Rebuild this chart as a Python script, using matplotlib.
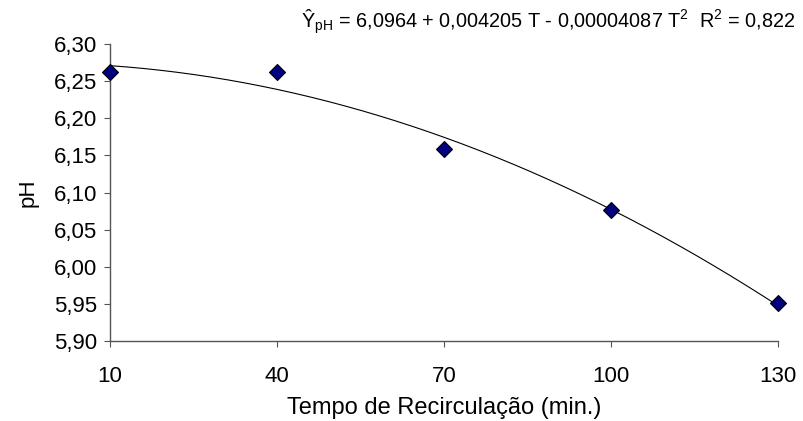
import numpy as np
import matplotlib
matplotlib.use("Agg")
import matplotlib.pyplot as plt
from matplotlib.ticker import FuncFormatter

plt.rcParams['font.family'] = ['Liberation Sans', 'DejaVu Sans']
plt.rcParams['mathtext.fontset'] = 'custom'
plt.rcParams['mathtext.rm'] = 'Liberation Sans'
plt.rcParams['mathtext.it'] = 'Liberation Sans'

tempo = [10, 40, 70, 100, 130]
ph = [6.262, 6.262, 6.158, 6.076, 5.951]
x_ticks = [10, 40, 70, 100, 130]
y_ticks = [5.90, 5.95, 6.00, 6.05, 6.10, 6.15, 6.20, 6.25, 6.30]
equation = ("Ŷ$_{\\mathregular{pH}}$ = 6,0964 + 0,004205 T - 0,00004087 T$^{\\mathregular{2}}$"
            "  R$^{\\mathregular{2}}$ = 0,822")

fig = plt.figure(figsize=(8.04, 4.21), dpi=100)
ax = fig.add_axes([110/804, 1 - 341/421, (778-110)/804, (341-44)/421])

coef = np.polyfit(tempo, ph, 2)
tt = np.linspace(10, 130, 200)
ax.plot(tt, np.polyval(coef, tt), color='black', lw=0.8, clip_on=False)
ax.plot(tempo, ph, linestyle='none', marker='D', markersize=8, clip_on=False, zorder=5,
        markerfacecolor='#000080', markeredgecolor='black', markeredgewidth=0.8)

ax.set_xlim(10, 130)
ax.set_ylim(5.90, 6.30)
ax.set_xticks(x_ticks)
ax.set_yticks(y_ticks)
ax.yaxis.set_major_formatter(FuncFormatter(lambda v, p: f"{v:.2f}".replace('.', ',')))
for s in ['top', 'right']:
    ax.spines[s].set_visible(False)
for s in ['left', 'bottom']:
    ax.spines[s].set_color('#555555')
    ax.spines[s].set_linewidth(1.0)
ax.tick_params(axis='both', direction='out', length=4, color='#555555', labelsize=16)
ax.tick_params(axis='x', pad=14)
ax.tick_params(axis='y', pad=5)
ax.set_xlabel("Tempo de Recirculação (min.)", fontsize=17, labelpad=7)
ax.set_ylabel("pH", fontsize=16, labelpad=11)

fig.text(795/804, 1 - 22/421, equation, fontsize=14.3, ha='right', va='center')

fig.savefig("out.png", dpi=100)
